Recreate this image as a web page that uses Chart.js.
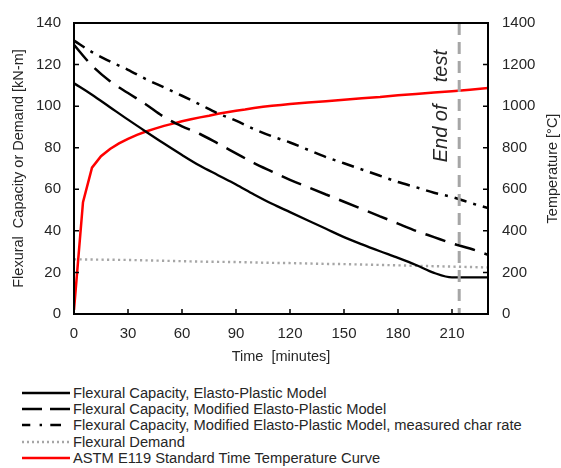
<!DOCTYPE html>
<html><head><meta charset="utf-8">
<script src="https://cdn.jsdelivr.net/npm/chart.js@4/dist/chart.umd.min.js"></script>
<style>
html,body{margin:0;padding:0;background:#fff;}
#wrap{position:relative;width:561px;height:468px;overflow:hidden;font-family:'Liberation Sans',Arial,sans-serif;}
#cv{position:absolute;left:0;top:0;}
#legend{position:absolute;left:22px;top:385px;font-size:14.7px;color:#262626;}
.row{height:16.2px;display:flex;align-items:center;white-space:nowrap;}
.row svg{width:48px;height:16px;margin-right:3px;flex:none;}
</style></head><body>
<div id="wrap"><canvas id="cv" width="561" height="372"></canvas><div id="legend"></div></div>
<script>
// ---- data ----
const timeCap = [0,10,20,30,40,50,60,70,80,90,100,110,120,130,140,150,160,170,180,190,200,210,220,230];
const capElastoPlastic = [111,105.5,99.5,93.5,87.7,82,76.5,71.3,66.8,62.3,57.5,53,49,45,41,37,33.5,30.2,27,23.6,19.8,17.6,17.6,17.6];
const capModified = [129.5,119.5,112,106.3,100.8,94.8,90.3,86.6,82,77.3,72.6,68.5,64.5,61,57.5,54,50.5,47,43.5,40,37,34,31.5,28.5];
const capModifiedChar = [131.5,126,121.5,117.5,113,109,105,100.8,96.5,93,89,85.5,82.5,79,75.5,72.5,69.5,66.5,63.5,61,58.3,56.3,53.5,51];
const demand = [26.3,26.2,26.1,26,25.8,25.6,25.4,25.2,25.1,25,24.8,24.6,24.5,24.3,24.1,24,23.8,23.6,23.4,23.2,23,22.8,22.6,22.4];
const timeFire = [0,5,10,15,20,25,30,35,40,45,50,55,60,65,70,75,80,85,90,95,100,105,110,115,120,130,140,150,160,170,180,190,200,210,220,230];
const tempE119 = [20,538,704,759,794,821,843,862,878,892,905,916,927,937,946,954,963,971,978,984,991,997,1002,1006,1010,1017,1024,1031,1038,1044,1052,1059,1066,1072,1079,1087];
const endOfTest = 214;
const seriesLabels = [
  'Flexural Capacity, Elasto-Plastic Model',
  'Flexural Capacity, Modified Elasto-Plastic Model',
  'Flexural Capacity, Modified Elasto-Plastic Model, measured char rate',
  'Flexural Demand',
  'ASTM E119 Standard Time Temperature Curve'
];
const xTitle = 'Time  [minutes]';
const yTitle = 'Flexural  Capacity or Demand [kN-m]';
const y2Title = 'Temperature [°C]';
const endText = 'End of    test';

// ---- styles ----
const FONT = "'Liberation Sans', Arial, sans-serif";
const TXT = '#262626';
const styles = [
  {color:'#000', width:2.3, dash:[], legendDash:'', axis:'y'},
  {color:'#000', width:2.5, dash:[21,10], legendDash:'20 8', axis:'y'},
  {color:'#000', width:2.5, dash:[12.5,7,3,7], legendDash:'8.3 9.3 2.4 8.3 10.7 30', axis:'y'},
  {color:'#a6a6a6', width:2.4, dash:[2.2,3.3], legendDash:'2 3', axis:'y'},
  {color:'#ff0000', width:2.5, dash:[], legendDash:'', axis:'y2'}
];
const seriesData = [
  timeCap.map((t,i)=>({x:t,y:capElastoPlastic[i]})),
  timeCap.map((t,i)=>({x:t,y:capModified[i]})),
  timeCap.map((t,i)=>({x:t,y:capModifiedChar[i]})),
  timeCap.map((t,i)=>({x:t,y:demand[i]})),
  timeFire.map((t,i)=>({x:t,y:tempE119[i]}))
];

const decor = {
  id:'decor',
  afterDatasetsDraw(chart){
    const {ctx, chartArea:a, scales} = chart;
    ctx.save();
    const xe = scales.x.getPixelForValue(endOfTest);
    ctx.strokeStyle = '#a6a6a6'; ctx.lineWidth = 3; ctx.setLineDash([12,7]);
    ctx.beginPath(); ctx.moveTo(xe, a.top); ctx.lineTo(xe, a.bottom); ctx.stroke();
    ctx.setLineDash([]);
    ctx.strokeStyle = '#000'; ctx.lineWidth = 2;
    ctx.strokeRect(a.left, a.top, a.right - a.left, a.bottom - a.top);
    ctx.lineWidth = 1.5;
    ctx.beginPath();
    scales.y.ticks.forEach(t => { const p = scales.y.getPixelForValue(t.value); ctx.moveTo(a.left, p); ctx.lineTo(a.left + 5, p); });
    scales.y2.ticks.forEach(t => { const p = scales.y2.getPixelForValue(t.value); ctx.moveTo(a.right, p); ctx.lineTo(a.right - 5, p); });
    scales.x.ticks.forEach(t => { const p = scales.x.getPixelForValue(t.value); ctx.moveTo(p, a.bottom); ctx.lineTo(p, a.bottom - 5); });
    ctx.stroke();
    ctx.fillStyle = TXT;
    ctx.font = 'italic 20px ' + FONT;
    ctx.textAlign = 'center'; ctx.textBaseline = 'middle';
    ctx.save();
    ctx.translate(xe - 18, scales.y.getPixelForValue(100));
    ctx.rotate(-Math.PI/2);
    ctx.fillText(endText, 0, 0);
    ctx.restore();
    ctx.font = '14.5px ' + FONT;
    ctx.save();
    ctx.translate(553, (a.top + a.bottom)/2);
    ctx.rotate(-Math.PI/2);
    ctx.fillText(y2Title, 0, 0);
    ctx.restore();
    ctx.restore();
  }
};

const plainTick = v => String(v);

new Chart(document.getElementById('cv'), {
  type:'line',
  data:{ datasets: seriesLabels.map((lab,i)=>({
    label: lab, data: seriesData[i], yAxisID: styles[i].axis,
    borderColor: styles[i].color, borderWidth: styles[i].width, borderDash: styles[i].dash,
    pointRadius: 0, fill: false,
    tension: i === 4 ? 0 : 0.4, cubicInterpolationMode: i === 4 ? 'default' : 'monotone',
    borderCapStyle: 'butt'
  }))},
  options:{
    responsive:false, animation:false,
    layout:{padding:{top:17,left:0,right:0,bottom:0}},
    plugins:{legend:{display:false}, tooltip:{enabled:false}},
    scales:{
      x:{type:'linear', min:0, max:230, grid:{display:false, drawTicks:false}, border:{display:false},
         ticks:{stepSize:30, includeBounds:false, padding:11, color:TXT, font:{family:FONT, size:15}, callback:plainTick},
         title:{display:true, text:xTitle, color:TXT, font:{family:FONT, size:14.5}, padding:{top:0,bottom:6}},
         afterFit(s){ s.height = 58; }},
      y:{position:'left', min:0, max:140, grid:{display:false, drawTicks:false}, border:{display:false},
         ticks:{stepSize:20, padding:13, color:TXT, font:{family:FONT, size:15}, callback:plainTick},
         title:{display:true, text:yTitle, color:TXT, font:{family:FONT, size:14.5}, padding:{top:10,bottom:0}},
         afterFit(s){ s.width = 74; }},
      y2:{position:'right', min:0, max:1400, grid:{display:false, drawTicks:false}, border:{display:false},
         ticks:{stepSize:200, padding:14, color:TXT, font:{family:FONT, size:15}, callback:plainTick},
         afterFit(s){ s.width = 73; }}
    }
  },
  plugins:[decor]
});

const lg = document.getElementById('legend');
seriesLabels.forEach((lab,i)=>{
  const st = styles[i];
  const row = document.createElement('div'); row.className = 'row';
  row.innerHTML = `<svg viewBox="0 0 48 16"><line x1="0" y1="8" x2="48" y2="8" stroke="${st.color}" stroke-width="${st.width}" ${st.legendDash ? `stroke-dasharray="${st.legendDash}"` : ''}/></svg><span></span>`;
  row.querySelector('span').textContent = lab;
  lg.appendChild(row);
});
</script>
</body></html>
